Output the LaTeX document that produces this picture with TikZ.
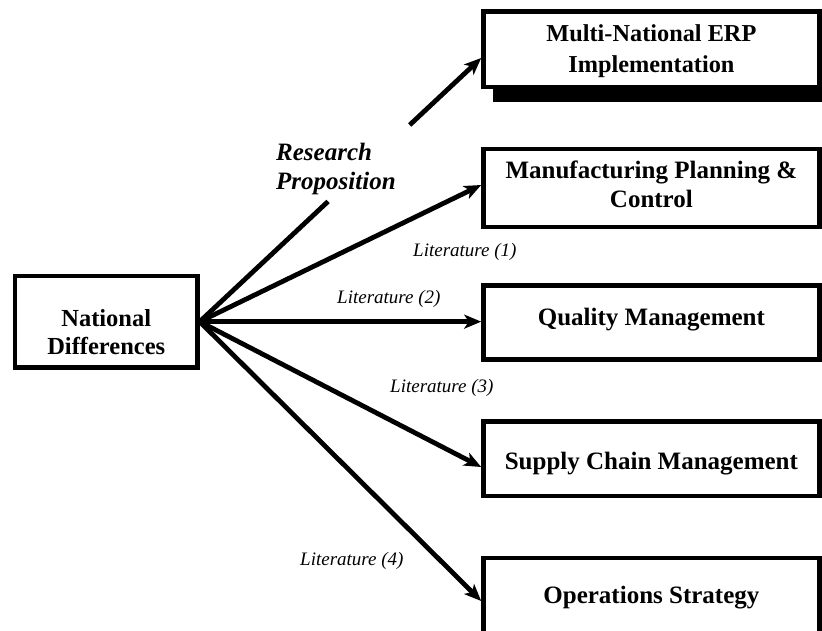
\documentclass[tikz,border=0pt]{standalone}
\usepackage{fontspec}
\setmainfont{Liberation Serif}
\usetikzlibrary{arrows.meta,calc}
\begin{document}
\begin{tikzpicture}[x=1pt,y=-1pt,
  box/.style={draw=black, line width=4.4pt, fill=white, rectangle, inner sep=0pt, minimum width=336pt},
  boxtext/.style={font=\fontsize{25}{29}\selectfont\bfseries, align=center, inner sep=0pt},
  littext/.style={font=\fontsize{19}{22}\selectfont\itshape, inner sep=0pt, anchor=base west},
  link/.style={line width=4.8pt},
  arr/.style={link, -{Stealth[length=17pt,width=14pt,inset=4.5pt]}}
]
\useasboundingbox (0,0) rectangle (822,630);
\clip (0,0) rectangle (822,630);
\fill[white] (0,0) rectangle (822,630);

% shadow of the top box
\fill[black] (493,30) rectangle (832,102);

% boxes
\node[box, minimum height=75.7pt] (erp) at (651.4,49.15) {};
\node[box, minimum height=77.7pt] (mfg) at (651.4,187.85) {};
\node[box, minimum height=74.2pt] (ql)  at (651.4,322.4) {};
\node[box, minimum height=74.9pt] (sc)  at (651.4,458.75) {};
\node[box, minimum height=80pt]   (op)  at (651.4,597.8) {};
\node[box, minimum width=182.5pt, minimum height=91.7pt] (nd) at (106.25,321.65) {};

% box texts
\node[boxtext, anchor=north, font=\fontsize{24.3}{31}\selectfont\bfseries] (erpt) at (651.4,24) {Multi-National ERP\\Implementation};
\node[boxtext, anchor=north] (mfgt) at (651.4,161) {Manufacturing Planning \&\\Control};
\node[boxtext, anchor=base] (qlt) at (651.4,325) {Quality Management};
\node[boxtext, anchor=base] (sct) at (651.4,469) {Supply Chain Management};
\node[boxtext, anchor=base] (opt) at (651.4,603) {Operations Strategy};
\node[boxtext, anchor=north, font=\fontsize{24.5}{27.5}\selectfont\bfseries] (ndt) at (106.25,309.5) {National\\Differences};

% arrow targets
\coordinate (erpin) at ($(erp.west)+(0,8.85)$);
\coordinate (mfgin) at ($(mfg.west)+(0,-2.85)$);
\coordinate (qlin)  at (nd.east -| ql.west);
\coordinate (scin)  at ($(sc.west)+(0,8.25)$);
\coordinate (opin)  at ($(op.west)+(0,3.2)$);

% research proposition connector (interrupted by its label)
\draw[link] (nd.east) -- ($(nd.east)!0.456!(erpin)$);
\draw[arr] ($(nd.east)!0.746!(erpin)$) -- (erpin);
\node[font=\fontsize{25}{29}\selectfont\bfseries\itshape, align=left, anchor=north west, inner sep=0pt] (rp) at (276,143) {Research\\Proposition};

% literature connectors
\draw[arr] (nd.east) -- (mfgin);
\draw[arr] (nd.east) -- (qlin);
\draw[arr] (nd.east) -- (scin);
\draw[arr] (nd.east) -- (opin);

\node[littext] (l1) at (413,256) {Literature (1)};
\node[littext] (l2) at (337,303) {Literature (2)};
\node[littext] (l3) at (390,392) {Literature (3)};
\node[littext] (l4) at (300,565) {Literature (4)};
\end{tikzpicture}
\end{document}
